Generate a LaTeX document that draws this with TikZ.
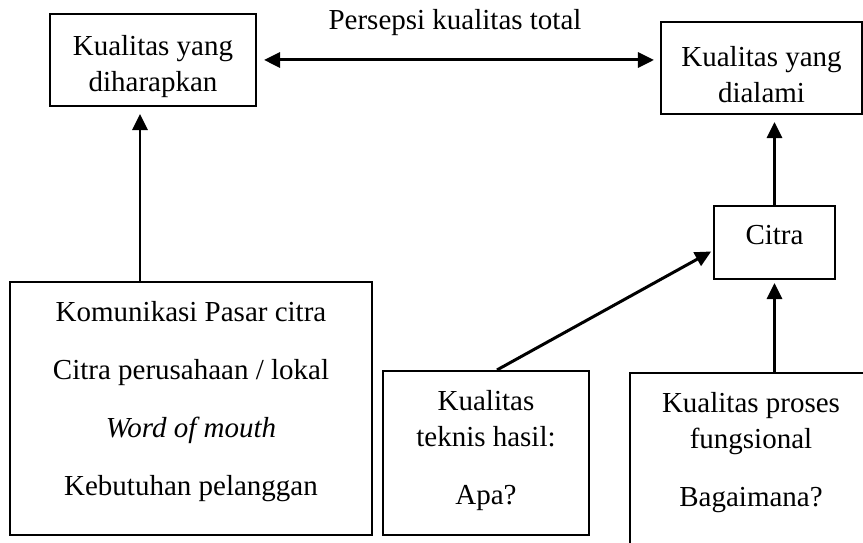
\documentclass[tikz,border=0pt]{standalone}
\usepackage{fontspec}
\setmainfont{Liberation Serif}
\usetikzlibrary{arrows.meta}
\newcommand{\isiatas}[4]{\parbox[c][#2][t]{#1}{\centering\vspace*{#3}#4}}

\begin{document}
\begin{tikzpicture}[font=\fontsize{8.25pt}{10.3pt}\selectfont,
	kotak/.style={draw, line width=0.6pt, inner sep=0pt, align=center},
	panah/.style={line width=0.85pt, -{Triangle[length=0.16cm,width=0.15cm]}},
	panahdua/.style={line width=0.85pt, {Triangle[length=0.16cm,width=0.15cm]}-{Triangle[length=0.16cm,width=0.15cm]}}]
		%%%%% BINGKAI %%%%%
		\clip (0, 0) rectangle (8.63, 5.43);
		
		%%%%% KOTAK ATAS %%%%%
		\node[kotak] (harap) at (1.53, 4.83) {\isiatas{2.06cm}{0.92cm}{0.21cm}{Kualitas yang\\diharapkan}};
		\node[kotak] (alami) at (7.615, 4.75) {\isiatas{2.01cm}{0.92cm}{0.24cm}{Kualitas yang\\dialami}};
		\node (persepsi) at (4.55, 5.20) {Persepsi kualitas total};
		\node[kotak] (citra) at (7.745, 3.005) {\isiatas{1.21cm}{0.73cm}{0.19cm}{Citra}};
		
		%%%%% KOTAK BAWAH %%%%%
		\node[kotak] (pasar) at (1.91, 1.345) {\isiatas{3.62cm}{2.53cm}{0.19cm}{Komunikasi Pasar citra\\[6.2pt]
			Citra perusahaan / lokal\\[6.2pt]
			\textit{Word of mouth}\\[6.2pt]
			Kebutuhan pelanggan}};
		\node[kotak] (teknis) at (4.86, 0.90) {\isiatas{2.06cm}{1.64cm}{0.19cm}{Kualitas\\
			teknis hasil:\\[6.2pt]
			Apa?}};
		\node[kotak] (proses) at (7.51, 0.80) {\isiatas{2.42cm}{1.80cm}{0.19cm}{Kualitas proses\\
			fungsional\\[6.2pt]
			Bagaimana?}};
		
		%%%%% PANAH %%%%%
		\coordinate (xkiri) at (1.40, 0);
		\draw[panahdua, shorten <=0.07cm, shorten >=0.06cm] (harap.east) -- (harap.east -| alami.west);
		\draw[panah, shorten >=0.07cm] (xkiri |- pasar.north) -- (xkiri |- harap.south);
		\draw[panah, shorten >=0.07cm] (citra.north) -- (citra.north |- alami.south);
		\draw[panah, shorten >=0.02cm] ([xshift=0.11cm]teknis.north) -- ([yshift=-0.08cm]citra.west);
		\draw[panah, shorten >=0.03cm] (citra.south |- proses.north) -- (citra.south);
	\end{tikzpicture}
\end{document}
